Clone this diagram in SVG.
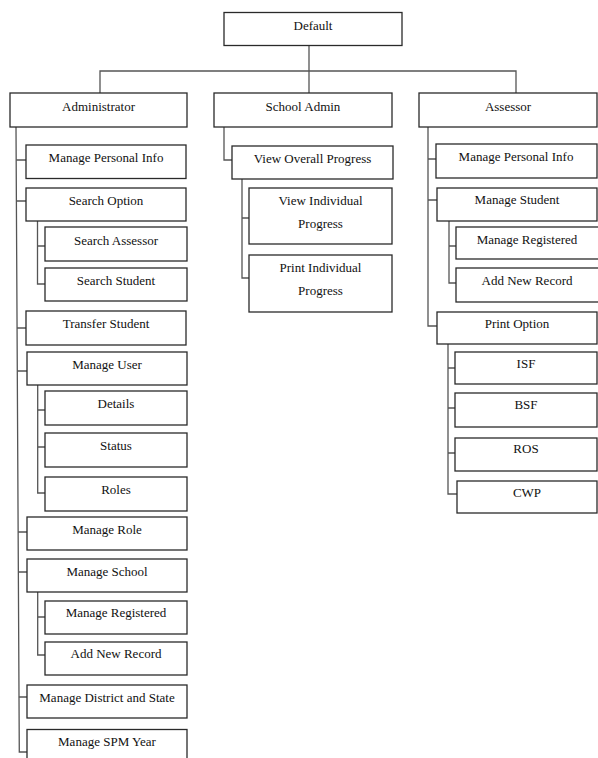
<svg xmlns="http://www.w3.org/2000/svg" width="598" height="758" viewBox="0 0 598 758">
  <style>
    .box { fill: #ffffff; stroke: #2a2a2a; stroke-width: 1.3; }
    .lbl { font-family: "Liberation Serif", "Times New Roman", serif; font-size: 13px; fill: #111; text-anchor: middle; }
    .conn { fill: none; stroke: #555; stroke-width: 1.3; }
  </style>
  <rect width="598" height="758" fill="#ffffff"/>

  <!-- connectors -->
  <g id="connectors">
    <path class="conn" d="M309,45 V93 M100,93 V71 H516 V93"/>
    <!-- Administrator branch -->
    <path class="conn" d="M16,127 L19.3,752 H27"/>
    <path class="conn" d="M16.2,160 H26 M16.5,201 H26 M17,328 H26 M17.2,371 H27 M18.1,532 H27 M18.3,572 H27 M18.9,697 H27"/>
    <path class="conn" d="M37.5,221 V284 H45 M37.5,246 H45"/>
    <path class="conn" d="M37.7,385 V493 H45 M37.7,410 H45 M37.7,447 H45"/>
    <path class="conn" d="M37.7,592 V655 H45 M37.7,617 H45"/>
    <!-- School Admin branch -->
    <path class="conn" d="M224,127 V160 H232"/>
    <path class="conn" d="M242,179 V278 H249 M242,218 H249"/>
    <!-- Assessor branch -->
    <path class="conn" d="M428,127 V326 H437 M428,159 H436 M428,200 H437"/>
    <path class="conn" d="M449,221 V283 H456 M449,246 H456"/>
    <path class="conn" d="M448,344 V494 H457 M448,368 H455 M448,408 H455 M448,453 H455"/>
  </g>

  <!-- root -->
  <g id="default"><rect class="box" x="224" y="12.5" width="178" height="33"/><text class="lbl" x="313" y="29.5">Default</text></g>

  <!-- top level roles -->
  <g id="administrator"><rect class="box" x="10" y="93" width="177" height="34"/><text class="lbl" x="98.5" y="110.5">Administrator</text></g>
  <g id="school-admin"><rect class="box" x="214" y="93" width="178" height="34"/><text class="lbl" x="303" y="110.5">School Admin</text></g>
  <g id="assessor"><rect class="box" x="419" y="93" width="178" height="34"/><text class="lbl" x="508" y="110.5">Assessor</text></g>

  <!-- Administrator items -->
  <g id="adm-personal"><rect class="box" x="26" y="145" width="160" height="33.5"/><text class="lbl" x="106" y="162">Manage Personal Info</text></g>
  <g id="adm-search"><rect class="box" x="26" y="188" width="160" height="33"/><text class="lbl" x="106" y="204.5">Search Option</text></g>
  <g id="adm-search-assessor"><rect class="box" x="45" y="227" width="142" height="34"/><text class="lbl" x="116" y="244.5">Search Assessor</text></g>
  <g id="adm-search-student"><rect class="box" x="45" y="268" width="142" height="33"/><text class="lbl" x="116" y="285">Search Student</text></g>
  <g id="adm-transfer"><rect class="box" x="26" y="311" width="160" height="34"/><text class="lbl" x="106" y="327.5">Transfer Student</text></g>
  <g id="adm-user"><rect class="box" x="27" y="352" width="160" height="33"/><text class="lbl" x="107" y="368.5">Manage User</text></g>
  <g id="adm-user-details"><rect class="box" x="45" y="391" width="142" height="34"/><text class="lbl" x="116" y="407.5">Details</text></g>
  <g id="adm-user-status"><rect class="box" x="45" y="433" width="142" height="34"/><text class="lbl" x="116" y="449.5">Status</text></g>
  <g id="adm-user-roles"><rect class="box" x="45" y="477" width="142" height="34"/><text class="lbl" x="116" y="494">Roles</text></g>
  <g id="adm-role"><rect class="box" x="27" y="517" width="160" height="33"/><text class="lbl" x="107" y="533.5">Manage Role</text></g>
  <g id="adm-school"><rect class="box" x="27" y="559" width="160" height="33"/><text class="lbl" x="107" y="575.5">Manage School</text></g>
  <g id="adm-school-registered"><rect class="box" x="45" y="601" width="142" height="33"/><text class="lbl" x="116" y="616.5">Manage Registered</text></g>
  <g id="adm-school-new"><rect class="box" x="45" y="642" width="142" height="33"/><text class="lbl" x="116" y="657.5">Add New Record</text></g>
  <g id="adm-district"><rect class="box" x="27" y="685" width="160" height="33"/><text class="lbl" x="107" y="701.5">Manage District and State</text></g>
  <g id="adm-spm"><rect class="box" x="27" y="729.5" width="160" height="40"/><text class="lbl" x="107" y="746">Manage SPM Year</text></g>

  <!-- School Admin items -->
  <g id="sa-overall"><rect class="box" x="232" y="146" width="161" height="33"/><text class="lbl" x="312.5" y="163">View Overall Progress</text></g>
  <g id="sa-view-individual"><rect class="box" x="249" y="188" width="143" height="56"/><text class="lbl" x="320.5" y="205">View Individual</text><text class="lbl" x="320.5" y="228">Progress</text></g>
  <g id="sa-print-individual"><rect class="box" x="249" y="255" width="143" height="57"/><text class="lbl" x="320.5" y="272">Print Individual</text><text class="lbl" x="320.5" y="295">Progress</text></g>

  <!-- Assessor items -->
  <g id="as-personal"><rect class="box" x="436" y="144" width="161" height="34"/><text class="lbl" x="516" y="161">Manage Personal Info</text></g>
  <g id="as-student"><rect class="box" x="437" y="188" width="160" height="33"/><text class="lbl" x="517" y="203.5">Manage Student</text></g>
  <g id="as-student-registered"><rect class="box" x="456" y="227" width="145" height="32"/><text class="lbl" x="527" y="243.5">Manage Registered</text></g>
  <g id="as-student-new"><rect class="box" x="456" y="268" width="145" height="34"/><text class="lbl" x="527" y="285">Add New Record</text></g>
  <g id="as-print"><rect class="box" x="437" y="312" width="160" height="32"/><text class="lbl" x="517" y="328">Print Option</text></g>
  <g id="as-isf"><rect class="box" x="455" y="352" width="142" height="32"/><text class="lbl" x="526" y="367.5">ISF</text></g>
  <g id="as-bsf"><rect class="box" x="455" y="393" width="142" height="34"/><text class="lbl" x="526" y="409">BSF</text></g>
  <g id="as-ros"><rect class="box" x="455" y="438" width="142" height="33"/><text class="lbl" x="526" y="453">ROS</text></g>
  <g id="as-cwp"><rect class="box" x="457" y="481" width="140" height="32"/><text class="lbl" x="527" y="497">CWP</text></g>
</svg>
